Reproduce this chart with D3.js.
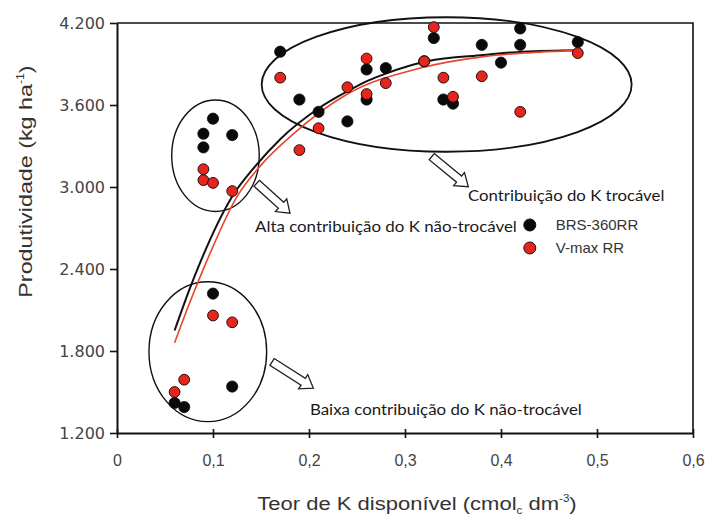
<!DOCTYPE html>
<html>
<head>
<meta charset="utf-8">
<script src="https://cdn.jsdelivr.net/npm/d3@7"></script>
<style>
  html, body { margin: 0; padding: 0; background: #fff; }
  svg { display: block; }
</style>
</head>
<body>
<svg id="chart" width="712" height="518"></svg>
<script>
// ---------- DATA ----------
// BRS-360RR (black) : K available (cmolc dm-3), yield (kg ha-1)
const brsX = [0.06, 0.07, 0.12, 0.10, 0.10, 0.09, 0.09, 0.12, 0.17, 0.19, 0.21, 0.24, 0.26, 0.26, 0.28, 0.32, 0.33, 0.34, 0.35, 0.38, 0.40, 0.42, 0.42, 0.48];
const brsY = [1420, 1390, 1540, 2220, 3500, 3390, 3290, 3380, 3990, 3640, 3550, 3480, 3860, 3640, 3870, 3920, 4090, 3640, 3610, 4040, 3910, 4160, 4040, 4060];
// V-max RR (red)
const vmaxX = [0.06, 0.07, 0.10, 0.12, 0.09, 0.09, 0.10, 0.12, 0.17, 0.19, 0.21, 0.24, 0.26, 0.26, 0.28, 0.32, 0.33, 0.34, 0.35, 0.38, 0.42, 0.48];
const vmaxY = [1500, 1590, 2060, 2010, 3130, 3050, 3030, 2970, 3800, 3270, 3430, 3730, 3940, 3680, 3760, 3920, 4170, 3800, 3660, 3810, 3550, 3980];

// fitted curves
const brsFitX = [0.060, 0.076, 0.088, 0.120, 0.145, 0.170, 0.211, 0.240, 0.262, 0.280, 0.323, 0.382, 0.423, 0.482];
const brsFitY = [1950, 2260, 2470, 2930, 3160, 3350, 3580, 3700, 3780, 3830, 3920, 3966, 3990, 4000];
const vmaxFitX = [0.060, 0.075, 0.093, 0.125, 0.150, 0.184, 0.240, 0.316, 0.382, 0.423, 0.482];
const vmaxFitY = [1860, 2140, 2450, 2930, 3160, 3390, 3680, 3870, 3954, 3980, 4000];

// axes
const xTicks = [0, 0.1, 0.2, 0.3, 0.4, 0.5, 0.6];
const xTickLabels = ["0", "0,1", "0,2", "0,3", "0,4", "0,5", "0,6"];
const yTicks = [1200, 1800, 2400, 3000, 3600, 4200];
const yTickLabels = ["1.200", "1.800", "2.400", "3.000", "3.600", "4.200"];

const seriesNames = ["BRS-360RR", "V-max RR"];

// annotation groups (ellipses): center x, center y, radius x, radius y (data units)
const groupCx = [0.1026, 0.0946, 0.3434];
const groupCy = [3229, 1795, 3750];
const groupRx = [0.0456, 0.0613, 0.1927];
const groupRy = [408, 512, 492];

// annotation labels + arrows (data units)
const noteTexts = ["Alta contribuição do K não-trocável", "Contribuição do K trocável", "Baixa contribuição do K não-trocável"];
const noteX = [0.1438, 0.3656, 0.2010];
const noteY = [2671, 2898, 1332];
const noteX1 = [0.4167, 0.5703, 0.4844];   // right end of each label
const arrowX0 = [0.1455, 0.3278, 0.1615];
const arrowY0 = [3027, 3222, 1720];
const arrowX1 = [0.1802, 0.3660, 0.2045];
const arrowY1 = [2808, 3002, 1528];

// ---------- CHART ----------
const svg = d3.select("#chart");
const W = 712, H = 518;
const m = { left: 117, right: 19, top: 23, bottom: 85 };

const x = d3.scaleLinear().domain([0, 0.6]).range([m.left, W - m.right]);
const y = d3.scaleLinear().domain([1200, 4200]).range([H - m.bottom, m.top]);

const black = "#0a0a0a";
const red = "#e4261f";

// frame (top, right)
svg.append("path")
  .attr("d", `M${x(0)},${y(4200)}H${x(0.6)}V${y(1200)}`)
  .attr("fill", "none").attr("stroke", "#111").attr("stroke-width", 1.6);

// axes
const xAxis = d3.axisBottom(x).tickValues(xTicks)
  .tickFormat((d, i) => xTickLabels[i]).tickSizeInner(5).tickSizeOuter(0).tickPadding(17);
const gx = svg.append("g").attr("transform", `translate(0,${y(1200)})`).call(xAxis);
gx.select(".domain").attr("stroke", "#111").attr("stroke-width", 2);
gx.selectAll(".tick line").attr("stroke", "#111").attr("stroke-width", 1.6).attr("y1", -4);
gx.selectAll(".tick text").attr("font-family", "Liberation Sans, Arial, sans-serif")
  .attr("font-size", 16).attr("fill", "#444");

const yAxis = d3.axisLeft(y).tickValues(yTicks)
  .tickFormat((d, i) => yTickLabels[i]).tickSizeInner(7).tickSizeOuter(0).tickPadding(5);
const gy = svg.append("g").attr("transform", `translate(${x(0)},0)`).call(yAxis);
gy.select(".domain").attr("stroke", "#111").attr("stroke-width", 2);
gy.selectAll(".tick line").attr("stroke", "#111").attr("stroke-width", 1.6);
gy.selectAll(".tick text").attr("font-family", "DejaVu Sans, sans-serif")
  .attr("font-size", 16).attr("fill", "#444");

// helper: stretch a text horizontally so that it spans a target width
function stretch(textSel, target) {
  const w = textSel.node().getComputedTextLength();
  return target / w;
}

// axis titles
const xtG = svg.append("g");
const xt = xtG.append("text")
  .attr("x", 0).attr("y", 0)
  .attr("text-anchor", "middle")
  .attr("font-family", "Liberation Sans, Arial, sans-serif").attr("font-size", 19).attr("fill", "#333");
xt.append("tspan").text("Teor de K disponível (cmol");
xt.append("tspan").attr("font-size", 10).attr("dy", 4).text("c");
xt.append("tspan").attr("dy", -4).text(" dm");
xt.append("tspan").attr("font-size", 10).attr("dy", -8).text("-3");
xt.append("tspan").attr("dy", 8).text(")");
xtG.attr("transform", `translate(${(x(0.146) + x(0.479)) / 2},510) scale(${stretch(xt, x(0.479) - x(0.146))},1)`);

const ytG = svg.append("g");
const yt = ytG.append("text")
  .attr("x", 0).attr("y", 0)
  .attr("text-anchor", "middle")
  .attr("font-family", "Liberation Sans, Arial, sans-serif").attr("font-size", 19).attr("fill", "#333");
yt.append("tspan").text("Produtividade (kg ha");
yt.append("tspan").attr("font-size", 10).attr("dy", -8).text("-1");
yt.append("tspan").attr("dy", 8).text(")");
ytG.attr("transform", `translate(32,${(y(3890) + y(2190)) / 2}) rotate(-90) scale(${stretch(yt, y(2190) - y(3890))},1)`);

// ellipses
svg.append("g").selectAll("ellipse").data(d3.range(groupCx.length)).join("ellipse")
  .attr("cx", i => x(groupCx[i]))
  .attr("cy", i => y(groupCy[i]))
  .attr("rx", i => x(groupCx[i] + groupRx[i]) - x(groupCx[i]))
  .attr("ry", i => y(groupCy[i] - groupRy[i]) - y(groupCy[i]))
  .attr("fill", "none").attr("stroke", "#111")
  .attr("stroke-width", i => i === 2 ? 1.8 : 1.4);

// fitted curves
const line = d3.line().x(d => x(d[0])).y(d => y(d[1])).curve(d3.curveMonotoneX);
svg.append("path").datum(brsFitX.map((v, i) => [v, brsFitY[i]]))
  .attr("d", line).attr("fill", "none").attr("stroke", "#111").attr("stroke-width", 2);
svg.append("path").datum(vmaxFitX.map((v, i) => [v, vmaxFitY[i]]))
  .attr("d", line).attr("fill", "none").attr("stroke", "#e8452a").attr("stroke-width", 1.6);

// points: black first, then red on top
svg.append("g").selectAll("circle").data(brsX.map((v, i) => [v, brsY[i]])).join("circle")
  .attr("cx", d => x(d[0])).attr("cy", d => y(d[1])).attr("r", 5.6)
  .attr("fill", black).attr("stroke", black).attr("stroke-width", 0.8);
svg.append("g").selectAll("circle").data(vmaxX.map((v, i) => [v, vmaxY[i]])).join("circle")
  .attr("cx", d => x(d[0])).attr("cy", d => y(d[1])).attr("r", 5.4)
  .attr("fill", red).attr("stroke", "#2a0a08").attr("stroke-width", 1);

// arrows (hollow block arrows)
function arrowPath(x0, y0, x1, y1) {
  const dx = x1 - x0, dy = y1 - y0, L = Math.hypot(dx, dy);
  const ux = dx / L, uy = dy / L, nx = -uy, ny = ux;
  const w = 4, hw = 8.5, hl = 12;
  const p = (a, b) => [x0 + ux * a + nx * b, y0 + uy * a + ny * b];
  const pts = [p(0, -w), p(L - hl, -w), p(L - hl, -hw), p(L, 0), p(L - hl, hw), p(L - hl, w), p(0, w)];
  return "M" + pts.map(q => q.join(",")).join("L") + "Z";
}
svg.append("g").selectAll("path").data(d3.range(arrowX0.length)).join("path")
  .attr("d", i => arrowPath(x(arrowX0[i]), y(arrowY0[i]), x(arrowX1[i]), y(arrowY1[i])))
  .attr("fill", "#fff").attr("stroke", "#222").attr("stroke-width", 1.3);

// annotation texts (Calibri-like, fitted to the label span)
noteTexts.forEach((t, i) => {
  const g = svg.append("g");
  const tx = g.append("text").attr("x", 0).attr("y", 0)
    .attr("font-family", "Lato, sans-serif").attr("font-size", 15.5).attr("fill", "#1a1a1a")
    .text(t);
  g.attr("transform", `translate(${x(noteX[i])},${y(noteY[i])}) scale(${stretch(tx, x(noteX1[i]) - x(noteX[i]))},1)`);
});

// legend
const legX = 0.430, legTextX = 0.457, legY = [2722, 2554];
const leg = svg.append("g");
leg.append("circle").attr("cx", x(legX)).attr("cy", y(legY[0])).attr("r", 6)
  .attr("fill", black).attr("stroke", black);
leg.append("circle").attr("cx", x(legX)).attr("cy", y(legY[1])).attr("r", 6)
  .attr("fill", red).attr("stroke", "#2a0a08");
leg.selectAll("text").data(seriesNames).join("text")
  .attr("x", x(legTextX)).attr("y", (d, i) => y(legY[i]) + 5)
  .attr("font-family", "Liberation Sans, Arial, sans-serif").attr("font-size", 15).attr("fill", "#333")
  .text(d => d);
</script>
</body>
</html>
